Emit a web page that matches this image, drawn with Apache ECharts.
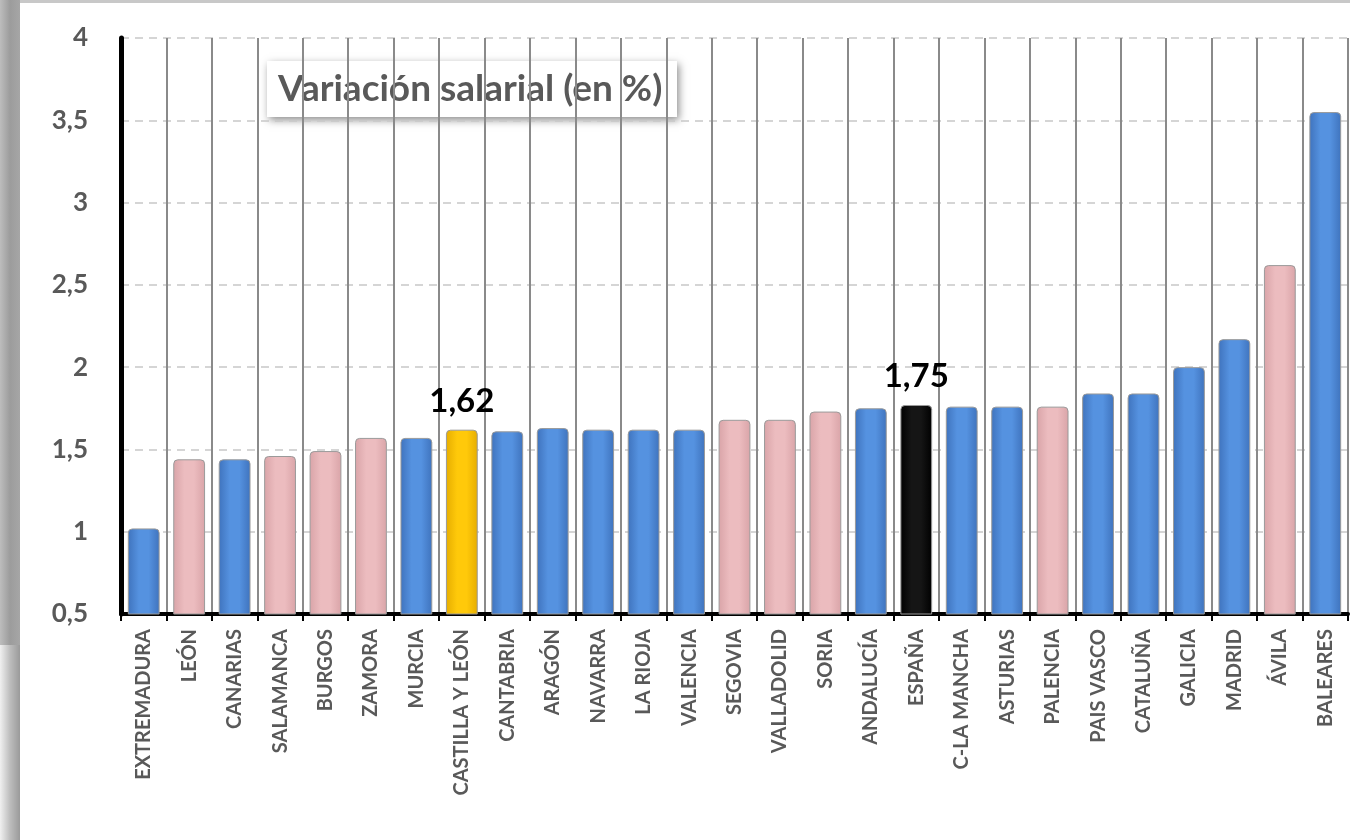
<!DOCTYPE html>
<html>
<head>
<meta charset="utf-8">
<script src="https://cdn.jsdelivr.net/npm/echarts@6/dist/echarts.min.js"></script>
<style>
    html, body { margin: 0; padding: 0; background: #fff; }
    #chart { width: 1350px; height: 840px; }
</style>
</head>
<body>
<div id="chart"></div>
<script>
// Regions, ordered as in the original picture
const regions = [
    'EXTREMADURA', 'LEÓN', 'CANARIAS', 'SALAMANCA', 'BURGOS', 'ZAMORA',
    'MURCIA', 'CASTILLA Y LEÓN', 'CANTABRIA', 'ARAGÓN', 'NAVARRA', 'LA RIOJA',
    'VALENCIA', 'SEGOVIA', 'VALLADOLID', 'SORIA', 'ANDALUCÍA', 'ESPAÑA',
    'C-LA MANCHA', 'ASTURIAS', 'PALENCIA', 'PAIS VASCO', 'CATALUÑA', 'GALICIA',
    'MADRID', 'ÁVILA', 'BALEARES'
];
// Wage variation (%)
const variation = [
    1.02, 1.44, 1.44, 1.46, 1.49, 1.57,
    1.57, 1.62, 1.61, 1.63, 1.62, 1.62,
    1.62, 1.68, 1.68, 1.73, 1.75, 1.77,
    1.76, 1.76, 1.76, 1.84, 1.84, 2.0,
    2.17, 2.62, 3.55
];
// b = autonomous community, p = province of Castilla y León, y = Castilla y León, k = España
const kind = [
    'b', 'p', 'b', 'p', 'p', 'p',
    'b', 'y', 'b', 'b', 'b', 'b',
    'b', 'p', 'p', 'p', 'b', 'k',
    'b', 'b', 'p', 'b', 'b', 'b',
    'b', 'p', 'b'
];
// value labels shown above bars
const shownLabels = { 'CASTILLA Y LEÓN': '1,62', 'ESPAÑA': '1,75' };
const yTicks = { min: 0.5, max: 4, step: 0.5 };

function barGradient(edge, mid) {
    return {
        type: 'linear', x: 0, y: 0, x2: 1, y2: 0,
        colorStops: [
            { offset: 0, color: edge },
            { offset: 0.35, color: mid },
            { offset: 0.65, color: mid },
            { offset: 1, color: edge }
        ]
    };
}

const palette = {
    b: barGradient('#3f73bd', '#5592e0'),
    p: barGradient('#d9a4a8', '#ecbcbf'),
    y: barGradient('#e6ad00', '#ffc90a'),
    k: barGradient('#000000', '#151515')
};

const chart = echarts.init(document.getElementById('chart'));

const option = {
    animation: false,
    backgroundColor: '#ffffff',
    grid: { left: 121, right: 2, top: 38, bottom: 226 },
    xAxis: {
        type: 'category',
        data: regions,
        axisLine: { lineStyle: { color: '#000', width: 4 } },
        axisTick: { show: true, length: 7, lineStyle: { color: '#000', width: 2 } },
        axisLabel: {
            rotate: 90, interval: 0, margin: 15,
            fontFamily: 'Lato', fontWeight: 'bold', fontSize: 20, color: '#595959'
        },
        splitLine: { show: true, lineStyle: { color: '#8a8a8a', width: 2 } }
    },
    yAxis: {
        type: 'value',
        min: yTicks.min, max: yTicks.max, interval: yTicks.step,
        axisLine: { show: true, lineStyle: { color: '#000', width: 5 } },
        axisTick: { show: false },
        axisLabel: {
            margin: 33,
            fontFamily: 'Lato', fontWeight: 'bold', fontSize: 26, color: '#595959',
            formatter: (v) => String(v).replace('.', ',')
        },
        splitLine: { show: true, lineStyle: { color: '#c8c8c8', width: 1.5, type: [8, 6] } }
    },
    series: [{
        type: 'bar',
        barWidth: '70%',
        data: variation.map((v, i) => {
            const item = {
                value: v,
                itemStyle: {
                    color: palette[kind[i]],
                    borderColor: '#9a9a9a',
                    borderWidth: 1,
                    borderRadius: [4, 4, 0, 0]
                }
            };
            if (shownLabels[regions[i]]) {
                item.label = {
                    show: true, position: 'top', distance: 12,
                    formatter: shownLabels[regions[i]],
                    fontFamily: 'Lato', fontWeight: 'bold', fontSize: 33, color: '#000'
                };
            }
            return item;
        })
    }],
    graphic: [
        // frame at the left and top of the picture
        { type: 'rect', left: 0, top: 0, shape: { width: 20, height: 645 },
          style: { fill: { type: 'linear', x: 0, y: 0, x2: 1, y2: 0,
              colorStops: [{ offset: 0, color: '#bdbdbd' }, { offset: 0.5, color: '#9c9c9c' }, { offset: 1, color: '#a6a6a6' }] } } },
        { type: 'rect', left: 0, top: 645, shape: { width: 20, height: 195 },
          style: { fill: { type: 'linear', x: 0, y: 0, x2: 1, y2: 0,
              colorStops: [{ offset: 0, color: '#f0f0f0' }, { offset: 0.5, color: '#bdbdbd' }, { offset: 1, color: '#9a9a9a' }] } } },
        { type: 'rect', left: 20, top: 0, shape: { width: 1330, height: 3 },
          style: { fill: '#c8c8c8' } },
        // title box
        {
            type: 'group', left: 267, top: 61,
            children: [
                { type: 'rect', shape: { width: 410, height: 56 },
                  style: { fill: '#fff', shadowBlur: 8, shadowOffsetX: 2, shadowOffsetY: 3, shadowColor: 'rgba(0,0,0,0.45)' } },
                { type: 'text', x: 11, y: 28,
                  style: { text: 'Variación salarial (en %)', fontFamily: 'Lato', fontWeight: 'bold', fontSize: 37, fill: '#595959', verticalAlign: 'middle' } }
            ]
        }
    ]
};

chart.setOption(option);
</script>
</body>
</html>
